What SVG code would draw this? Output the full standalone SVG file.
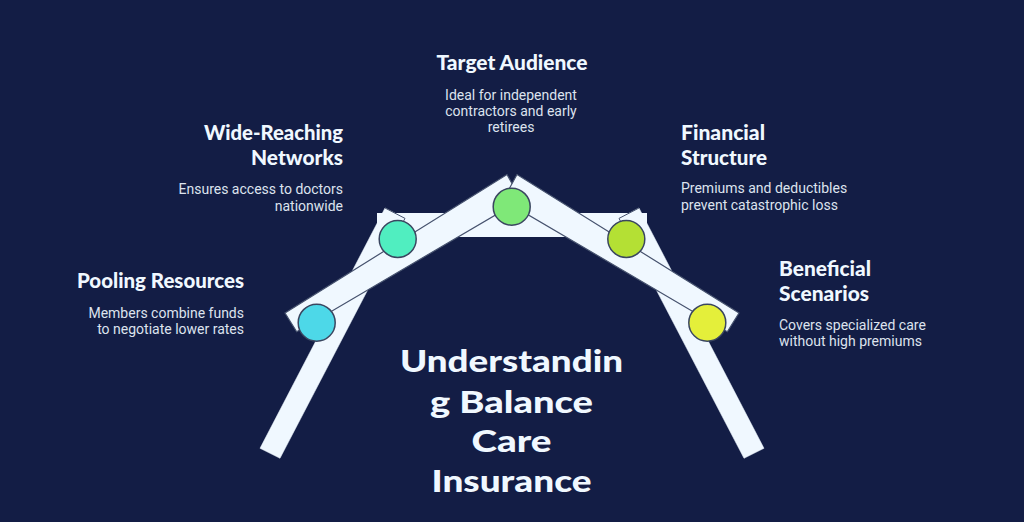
<svg xmlns="http://www.w3.org/2000/svg" width="1024" height="522" viewBox="0 0 1024 522">
<style>
.fr{fill:#f0f8ff;stroke:#46526e;stroke-width:1.2}
.lg{fill:#f0f8ff;stroke:#f0f8ff;stroke-width:0.5}
.nd{stroke:#3a4660;stroke-width:1.5}
.t{font-family:Lato,"Liberation Sans",sans-serif;font-weight:900;font-size:20px;fill:#f0f8ff}
.d{font-family:Roboto,"Liberation Sans",sans-serif;font-size:14px;fill:#dde3ee}
.m{font-family:Lato,"Liberation Sans",sans-serif;font-weight:900;font-size:31px;fill:#f0f8ff;text-anchor:middle}
.r{text-anchor:end}
.c{text-anchor:middle}
</style>
<rect width="1024" height="522" fill="#131d45"/>
<g id="frame">
<rect x="377" y="213" width="270" height="24" fill="#f0f8ff"/>
<polygon class="lg" points="385,208 405,218.4 280,458.3 260,448.3"/>
<polygon class="lg" points="639,208 619,218.4 744,458.3 764,448.3"/>
<polyline points="385,208 405,218.4 401,226" fill="none" stroke="#46526e" stroke-width="1"/>
<polyline points="639,208 619,218.4 623,226" fill="none" stroke="#46526e" stroke-width="1"/>
</g>
<g id="connectors">
<polygon class="fr" points="285,313 507,174.5 521,200 296.7,331.7"/>
<polygon class="fr" points="739,313 517,174.5 503,200 727.3,331.7"/>
</g>
<g id="node-pooling">
<circle class="nd" cx="316.7" cy="322.7" r="18.5" fill="#4dd8e8"/>
<text class="t r" x="244" y="288" textLength="167" lengthAdjust="spacingAndGlyphs">Pooling Resources</text>
<text class="d r" x="244" y="318">Members combine funds</text>
<text class="d r" x="244" y="334">to negotiate lower rates</text>
</g>
<g id="node-networks">
<circle class="nd" cx="397.7" cy="239" r="18.5" fill="#50eec0"/>
<text class="t r" x="343" y="140" textLength="139" lengthAdjust="spacingAndGlyphs">Wide-Reaching</text>
<text class="t r" x="343" y="165" textLength="92" lengthAdjust="spacingAndGlyphs">Networks</text>
<text class="d r" x="343" y="194">Ensures access to doctors</text>
<text class="d r" x="343" y="211">nationwide</text>
</g>
<g id="node-audience">
<circle class="nd" cx="511.7" cy="206.7" r="18.5" fill="#7fe878"/>
<text class="t c" x="512" y="70" textLength="151" lengthAdjust="spacingAndGlyphs">Target Audience</text>
<text class="d c" x="511" y="100">Ideal for independent</text>
<text class="d c" x="511" y="116">contractors and early</text>
<text class="d c" x="511" y="132">retirees</text>
</g>
<g id="node-financial">
<circle class="nd" cx="626.3" cy="239" r="18.5" fill="#b4e034"/>
<text class="t" x="681" y="140" textLength="84" lengthAdjust="spacingAndGlyphs">Financial</text>
<text class="t" x="681" y="165" textLength="86" lengthAdjust="spacingAndGlyphs">Structure</text>
<text class="d" x="681" y="193">Premiums and deductibles</text>
<text class="d" x="681" y="210">prevent catastrophic loss</text>
</g>
<g id="node-scenarios">
<circle class="nd" cx="707.3" cy="322.7" r="18.5" fill="#e4ef3a"/>
<text class="t" x="779" y="276" textLength="92" lengthAdjust="spacingAndGlyphs">Beneficial</text>
<text class="t" x="779" y="301" textLength="90" lengthAdjust="spacingAndGlyphs">Scenarios</text>
<text class="d" x="779" y="330">Covers specialized care</text>
<text class="d" x="779" y="346">without high premiums</text>
</g>
<g id="title">
<text class="m" x="511.5" y="372" textLength="223" lengthAdjust="spacingAndGlyphs">Understandin</text>
<text class="m" x="511.5" y="413" textLength="163" lengthAdjust="spacingAndGlyphs">g Balance</text>
<text class="m" x="511.5" y="452" textLength="80" lengthAdjust="spacingAndGlyphs">Care</text>
<text class="m" x="511.5" y="492" textLength="160" lengthAdjust="spacingAndGlyphs">Insurance</text>
</g>
</svg>
